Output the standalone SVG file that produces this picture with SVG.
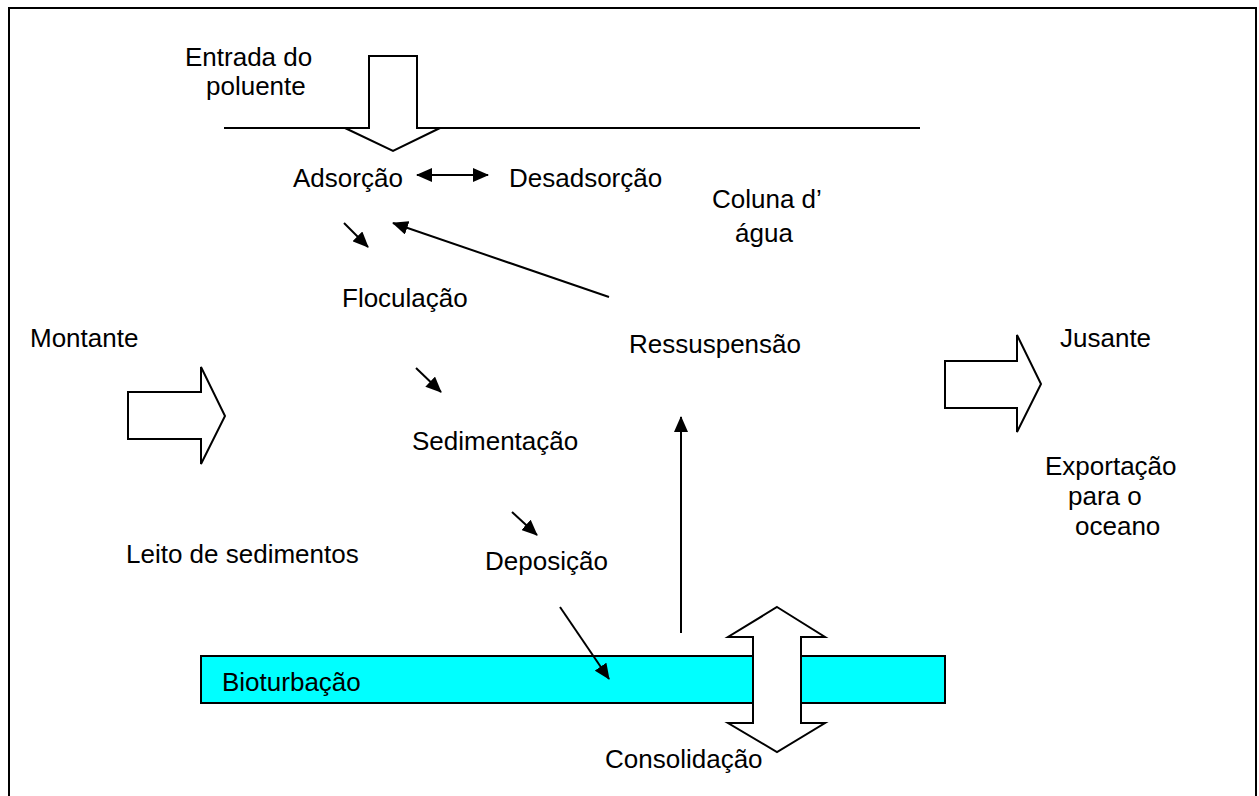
<svg xmlns="http://www.w3.org/2000/svg" width="1259" height="796" viewBox="0 0 1259 796">
<style>
text{font-family:"Liberation Sans",Arial,sans-serif;font-size:26px;fill:#000}
.ln{stroke:#000;stroke-width:2;fill:none}
.blk{fill:#fff;stroke:#000;stroke-width:2;stroke-linejoin:miter}
</style>
<defs>
<marker id="ah" viewBox="0 0 16 14" refX="15" refY="7" markerWidth="16" markerHeight="14" markerUnits="userSpaceOnUse" orient="auto-start-reverse">
<path d="M0,0 L16,7 L0,14 Z" fill="#000"/>
</marker>
</defs>
<rect x="0" y="0" width="1259" height="796" fill="#fff"/>
<path d="M9,800 V8 H1256 V800" class="ln"/>
<line x1="224" y1="128" x2="920" y2="128" class="ln"/>
<g id="bioturbacao">
<rect x="201" y="656" width="744" height="47" fill="#00ffff" stroke="#000" stroke-width="2"/>
<text x="222" y="691">Bioturbação</text>
</g>
<g id="entrada">
<polygon class="blk" points="369,56 417,56 417,128 440,128 393,151 345,128 369,128"/>
<text x="185" y="66">Entrada do</text>
<text x="206" y="95">poluente</text>
</g>
<g id="montante">
<polygon class="blk" points="128,392 201,392 201,367 225,416 201,464 201,439 128,439"/>
<text x="30" y="347">Montante</text>
</g>
<g id="jusante">
<polygon class="blk" points="945,361 1017,361 1017,335 1041,384 1017,432 1017,408 945,408"/>
<text x="1060" y="347">Jusante</text>
</g>
<g id="exportacao">
<text x="1045" y="475">Exportação</text>
<text x="1068" y="505">para o</text>
<text x="1075" y="535">oceano</text>
</g>
<g id="consolidacao">
<polygon class="blk" points="777,607 825,637 801,637 801,723 825,723 777,752 728,723 753,723 753,637 728,637"/>
<text x="605" y="768">Consolidação</text>
</g>
<g id="adsorcao"><text x="293" y="187">Adsorção</text></g>
<g id="desadsorcao"><text x="509" y="187">Desadsorção</text></g>
<g id="coluna"><text x="712" y="208">Coluna d’</text><text x="735" y="242">água</text></g>
<g id="floculacao"><text x="342" y="307">Floculação</text></g>
<g id="ressuspensao"><text x="629" y="353">Ressuspensão</text></g>
<g id="sedimentacao"><text x="412" y="450">Sedimentação</text></g>
<g id="leito"><text x="126" y="563">Leito de sedimentos</text></g>
<g id="deposicao"><text x="485" y="570">Deposição</text></g>
<g id="connectors">
<line class="ln" x1="417" y1="175" x2="488" y2="175" marker-start="url(#ah)" marker-end="url(#ah)"/>
<line class="ln" x1="344" y1="223" x2="368" y2="247" marker-end="url(#ah)"/>
<line class="ln" x1="609" y1="297" x2="393" y2="223" marker-end="url(#ah)"/>
<line class="ln" x1="416" y1="368" x2="441" y2="392" marker-end="url(#ah)"/>
<line class="ln" x1="512" y1="512" x2="537" y2="535" marker-end="url(#ah)"/>
<line class="ln" x1="560" y1="607" x2="609" y2="679" marker-end="url(#ah)"/>
<line class="ln" x1="681" y1="633" x2="681" y2="417" marker-end="url(#ah)"/>
</g>
</svg>
